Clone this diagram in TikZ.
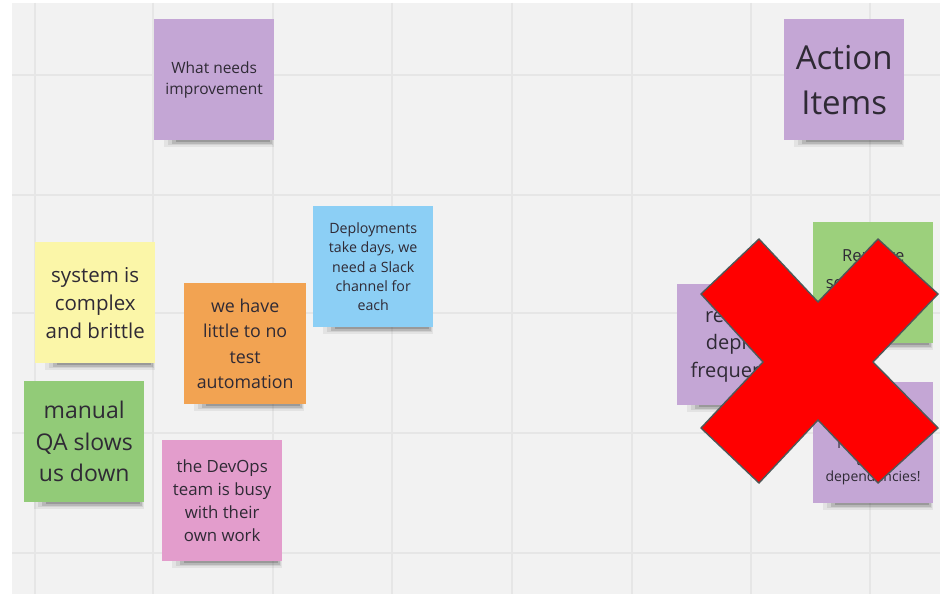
\documentclass[tikz,border=0pt]{standalone}
\usepackage{fontspec}
\setmainfont{Open Sans}
\definecolor{bgc}{HTML}{F2F2F2}
\definecolor{gridc}{HTML}{E6E6E6}
\definecolor{purp}{HTML}{C4A6D5}
\definecolor{bluec}{HTML}{8CCFF5}
\definecolor{yell}{HTML}{FBF6A8}
\definecolor{oran}{HTML}{F2A352}
\definecolor{grn}{HTML}{92CB78}
\definecolor{grnb}{HTML}{9CD07C}
\definecolor{pink}{HTML}{E39DCC}
\definecolor{txt}{HTML}{2F2A35}
\definecolor{xedge}{HTML}{4F5858}
\tikzset{
  note/.style={anchor=north west, inner sep=0pt, align=center, text=txt,
    minimum width=120pt, minimum height=121pt},
  fs/.style 2 args={font={\fontsize{#1}{#2}\selectfont}},
  gridline/.style={draw=gridc, line width=1.1pt},
  xmark/.style={fill=red, draw=xedge, line width=1.4pt, line join=miter},
}
\newcommand\notesh[2]{%
  \fill[black,opacity=.06] (#1+10,#2+118) rectangle (#1+120,#2+128);
  \fill[black,opacity=.08] (#1+14,#2+119) rectangle (#1+119,#2+126);
  \fill[black,opacity=.12] (#1+18,#2+120) rectangle (#1+118,#2+124.5);
  \fill[black,opacity=.16] (#1+22,#2+120) rectangle (#1+116,#2+123);
}
\begin{document}
\begin{tikzpicture}[x=1pt,y=-1pt]
\useasboundingbox (0,0) rectangle (940,594);
\fill[white] (0,0) rectangle (940,594);
\fill[bgc] (12,3) rectangle (940,594);
% grid
\foreach \gx in {35,153,273,392,512,632,751,870}
  \draw[gridline] (\gx,3) -- (\gx,594);
\foreach \gy in {75,195,313,433,553}
  \draw[gridline] (12,\gy) -- (940,\gy);
% shadows
\notesh{154}{19}
\notesh{784}{19}
\notesh{313}{206}
\notesh{35}{242}
\notesh{184}{283}
\notesh{24}{381}
\notesh{162}{440}
\notesh{677}{284}
\notesh{813}{222}
\notesh{813}{382}
% notes
\node[note, fill=purp, fs={15.5}{21}] (wn) at (154,19)
  {What needs\\improvement};
\node[note, fill=purp, fs={33}{45}] (ai) at (784,19)
  {Action\\Items};
\node[note, fill=bluec, fs={14.2}{19.3}] (dp) at (313,206)
  {Deployments\\take days, we\\need a Slack\\channel for\\each};
\node[note, fill=yell, fs={20.5}{28}] (sy) at (35,242)
  {system is\\complex\\and brittle};
\node[note, fill=oran, minimum width=122pt, fs={17.8}{25.3}] (or) at (184,283)
  {we have\\little to no\\test\\automation};
\node[note, fill=grn, fs={23}{31.5}] (mq) at (24,381)
  {manual\\QA slows\\us down};
\node[note, fill=pink, fs={16.8}{23}] (dv) at (162,440)
  {the DevOps\\team is busy\\with their\\own work};
\node[note, fill=purp, fs={20}{27.5}] (rd) at (677,284)
  {reduce\\deploy\\frequency};
\node[note, fill=grnb, fs={16.6}{27}] (rm) at (813,222)
  {Remove\\separate QA\\team};
\node[note, fill=purp] (de) at (813,382) {};
\node[align=center, text=txt, inner sep=0pt, fs={14}{16.6}] (det) at (873,461.5)
  {reduce our\\team\\dependencies!};
% red cross
\draw[xmark] (759,239) -- (818,302) -- (878,239) -- (938,294) -- (873,362)
  -- (938,428) -- (878,483) -- (818,420) -- (759,483) -- (701,428)
  -- (763,362) -- (701,294) -- cycle;
\end{tikzpicture}
\end{document}
